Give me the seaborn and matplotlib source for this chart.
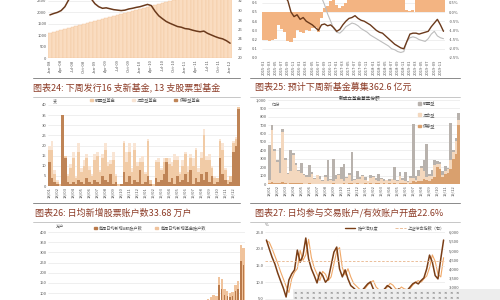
import numpy as np
import matplotlib
matplotlib.use("Agg")
import matplotlib.pyplot as plt
import seaborn as sns
from matplotlib.lines import Line2D
from matplotlib.patches import Patch, Rectangle

sns.set_theme(style="white")
plt.rcParams['font.family'] = ['Noto Sans CJK SC', 'DejaVu Sans']
plt.rcParams['axes.unicode_minus'] = False

# ---------------- data ----------------
# Panel 1: new-fund issuance (area) and line
p1_area = [1100, 1145, 1190, 1235, 1280, 1320, 1365, 1410, 1455, 1500, 1545, 1590, 1635, 1680, 1720, 1765,
           1810, 1855, 1900, 1945, 1990, 2035, 2075, 2120, 2165, 2210, 2255, 2300, 2345, 2390, 2430, 2475,
           2520, 2565, 2610, 2655, 2700, 2745, 2785, 2830, 2875, 2920, 2965, 3010, 3050, 3095, 3140, 3185, 3230]
p1_line = [1890, 1950, 2000, 2080, 2250, 2550, 2700, 2800, 2750, 2800, 2650, 2600, 2380, 2250, 2180, 2200,
           2160, 2120, 2100, 2080, 2100, 2150, 2180, 2220, 2250, 2300, 2350, 2300, 2050, 1850, 1720, 1600,
           1520, 1450, 1380, 1350, 1290, 1270, 1220, 1180, 1150, 1180, 1080, 1010, 940, 880, 840, 760, 650]
p1_xlabels = ["Jan-08", "Apr-08", "Jul-08", "Oct-08", "Jan-09", "Apr-09", "Jul-09", "Oct-09", "Jan-10",
              "Apr-10", "Jul-10", "Oct-10", "Jan-11", "Apr-11", "Jul-11", "Oct-11", "Jan-12"]

# Panel 2: flow bars (right, %) and two lines (left)
p2_flow = [-1.5, -1.5, -1.55, -1.5, -1.45, -0.7, -0.9, -1.1, -1.6, -1.65, -1.4, -1.0, -1.1, -1.15, -1.0,
           -1.05, -0.85, -0.8, -1.1, -0.3, 0.2, 0.3, 0.6, 0.9, 0.4, 0.2, 0.3, 0.5, 0.8, 0.9, 1.0, 0.8, 0.9,
           1.0, 0.9, 0.8, 1.0, 0.9, 0.7, 0.8, 0.9, 1.0, 0.9, 0.8, 0.9, 1.0, 0.8, 0.1, 0.05, 0.1, 0.8, 0.9,
           1.0, 0.9, 1.0, 0.9, 1.0, 0.9, 1.0, 0.9]
p2_brown = [0.78, 0.78, 0.77, 0.76, 0.74, 0.70, 0.68, 0.67, 0.62, 0.50, 0.45, 0.47, 0.42, 0.44, 0.40, 0.38,
            0.36, 0.33, 0.30, 0.36, 0.37, 0.35, 0.36, 0.33, 0.29, 0.31, 0.36, 0.40, 0.43, 0.44, 0.46, 0.43,
            0.41, 0.40, 0.38, 0.36, 0.33, 0.30, 0.28, 0.27, 0.24, 0.21, 0.18, 0.15, 0.13, 0.11, 0.10, 0.18,
            0.26, 0.27, 0.27, 0.26, 0.27, 0.28, 0.29, 0.34, 0.38, 0.42, 0.36, 0.29]
p2_gray = [0.80, 0.80, 0.80, 0.80, 0.80, 0.80, 0.80, 0.68, 0.66, 0.67, 0.69, 0.72, 0.78, 0.80, 0.80, 0.80,
           0.80, 0.80, 0.78, 0.66, 0.58, 0.48, 0.40, 0.32, 0.28, 0.27, 0.30, 0.34, 0.36, 0.38, 0.37, 0.35,
           0.32, 0.30, 0.28, 0.25, 0.23, 0.21, 0.19, 0.17, 0.15, 0.13, 0.10, 0.09, 0.07, 0.06, 0.07, 0.18,
           0.22, 0.23, 0.22, 0.20, 0.19, 0.18, 0.21, 0.26, 0.29, 0.24, 0.22, 0.21]
p2_xlabels = ["2015-01", "2015-03", "2015-05", "2015-07", "2015-09", "2015-11", "2016-01", "2016-03",
              "2016-05", "2016-07", "2016-09", "2016-11", "2017-01", "2017-03", "2017-05", "2017-07",
              "2017-09", "2017-11", "2018-01", "2018-03", "2018-05", "2018-07", "2018-09", "2018-11",
              "2019-01", "2019-03", "2019-05", "2019-07", "2019-09", "2019-11"]

# Panel 3: number of new funds (stacked)
p3_stock = [12, 4, 2, 1, 0, 35, 14, 2, 1, 2, 1, 3, 2, 1, 4, 2, 1, 3, 2, 1, 5, 3, 2, 6, 1, 2, 0, 1, 7, 2,
            5, 1, 3, 2, 8, 1, 2, 5, 1, 0, 4, 2, 3, 6, 12, 2, 4, 1, 5, 2, 3, 6, 2, 8, 1, 4, 2, 6, 3, 7,
            2, 5, 1, 2, 14, 6, 3, 1, 2, 17, 20, 38]
p3_mixed = [6, 14, 4, 1, 1, 0, 1, 3, 8, 12, 3, 14, 5, 9, 10, 6, 4, 10, 13, 6, 9, 15, 8, 5, 12, 3, 1, 0,
            14, 10, 12, 6, 15, 8, 4, 11, 4, 17, 2, 1, 8, 10, 5, 6, 2, 9, 6, 12, 8, 4, 7, 10, 5, 6, 9, 14,
            5, 8, 22, 6, 11, 4, 3, 2, 8, 12, 5, 2, 3, 4, 3, 1]
p3_bond = [2, 4, 2, 1, 0, 0, 0, 1, 2, 3, 1, 4, 2, 3, 2, 2, 1, 3, 2, 1, 2, 3, 2, 2, 4, 1, 0, 0, 1, 5, 4, 2,
           3, 2, 2, 3, 1, 1, 0, 0, 1, 2, 1, 2, 0, 3, 2, 3, 2, 1, 3, 1, 3, 2, 4, 1, 2, 3, 3, 2, 3, 1, 1, 0,
           1, 3, 1, 0, 0, 1, 1, 0]
p3_series = ["股票型基金", "混合型基金", "债券型基金"]
p3_xlabels = ["18/01", "18/02", "18/03", "18/04", "18/05", "18/06", "18/07", "18/08", "18/09", "18/10",
              "18/11", "18/12", "19/01", "19/02", "19/03", "19/04", "19/05", "19/06", "19/07", "19/08",
              "19/09", "19/10", "19/11", "19/12"]

# Panel 4: new fund raised shares
p4_gray = [420, 60, 30, 20, 300, 40, 20, 10, 250, 30, 20, 10, 120, 10, 20, 150, 20, 10, 5, 40, 10, 20, 250,
           10, 270, 40, 10, 150, 200, 10, 20, 350, 10, 100, 20, 10, 30, 5, 40, 10, 20, 80, 10, 20, 5, 30,
           10, 150, 10, 50, 20, 100, 10, 30, 650, 40, 80, 20, 120, 400, 20, 80, 50, 30, 20, 40, 60, 10, 450,
           20, 40, 80]
p4_beige = [40, 620, 380, 250, 120, 600, 280, 120, 150, 330, 220, 150, 120, 100, 80, 70, 120, 60, 100, 50,
            30, 80, 30, 40, 20, 60, 100, 50, 30, 70, 100, 20, 40, 50, 60, 90, 40, 30, 60, 80, 40, 30, 60,
            30, 40, 20, 50, 40, 30, 80, 40, 30, 20, 60, 40, 30, 60, 150, 100, 30, 60, 30, 150, 40, 60, 30,
            40, 50, 100, 80, 150, 60]
p4_orange = [10, 20, 10, 10, 10, 20, 10, 5, 10, 10, 10, 10, 10, 5, 5, 10, 5, 5, 5, 5, 5, 5, 5, 5, 10, 5, 5,
             5, 10, 5, 10, 10, 5, 10, 5, 5, 10, 5, 10, 5, 10, 10, 5, 10, 5, 10, 5, 10, 5, 10, 10, 10, 5,
             10, 30, 20, 30, 40, 60, 50, 40, 60, 80, 200, 180, 80, 120, 130, 180, 300, 360, 700]
p4_series = ["股票型", "混合型", "债券型"]
p4_xlabels = p3_xlabels

# Panel 5: new accounts (万户)
p5_fund = [30, 25, 20, 22, 18, 25, 30, 28, 20, 18, 15, 20, 22, 25, 20, 18, 22, 25, 28, 30, 26, 22, 20, 18,
           20, 22, 25, 28, 24, 20, 18, 16, 15, 18, 20, 22, 24, 26, 25, 22, 20, 18, 20, 24, 28, 30, 35, 40,
           38, 35, 30, 28, 32, 36, 40, 45, 50, 60, 70, 80, 90, 85, 180, 170, 120, 110, 100, 105, 140, 160,
           335, 320]
p5_stock = [20, 18, 15, 16, 12, 18, 22, 20, 14, 12, 10, 14, 16, 18, 14, 12, 16, 18, 20, 22, 18, 16, 14, 12,
            14, 16, 18, 20, 17, 14, 12, 11, 10, 12, 14, 16, 17, 18, 18, 16, 14, 12, 14, 17, 20, 22, 25, 28,
            27, 25, 22, 20, 23, 26, 28, 32, 36, 42, 50, 56, 64, 60, 140, 120, 90, 85, 80, 85, 110, 120, 260,
            240]
p5_series = ["每周日均新增A股账户数", "每周日均新增基金账户数"]

# Panel 6: account activity (%) and index (right)
p6_active = [22.6, 20.0, 17.5, 15.5, 12.8, 10.5, 8.3, 5.6, 10.7, 12.5, 13.7, 19.6, 16.0, 18.0, 23.2, 17.0,
             14.0, 12.0, 9.8, 13.0, 12.0, 10.0, 11.0, 15.0, 19.0, 20.5, 14.0, 11.6, 13.7, 11.0, 9.0, 8.3,
             7.5, 6.8, 7.5, 8.5, 9.5, 10.1, 8.0, 7.0, 6.5, 7.0, 8.0, 9.0, 8.5, 7.5, 7.0, 8.0, 7.5, 7.0, 7.5,
             8.5, 9.5, 10.0, 9.5, 10.5, 11.3, 14.0, 18.1, 16.0, 12.0, 11.0, 17.0, 22.6]
p6_index = [5500, 5450, 5100, 4700, 4300, 3850, 3450, 3050, 2700, 3450, 3800, 4000, 5000, 4450, 4750, 5600,
            4600, 4050, 3700, 3350, 3850, 3700, 3350, 3550, 4250, 4950, 5150, 4050, 3650, 4000, 3550, 3200,
            3050, 2900, 2800, 2900, 3100, 3250, 3350, 3000, 2850, 2750, 2850, 3000, 3200, 3100, 2900, 2850,
            3000, 2900, 2850, 2900, 3100, 3250, 3350, 3250, 3450, 3600, 4050, 4750, 4400, 3700, 3550, 4600]
p6_ref = 16.3
p6_series = ["账户活跃度", "上证综合指数（右）"]

captions = ["图表24: 下周发行16 支新基金, 13 支股票型基金",
            "图表25: 预计下周新基金募集362.6 亿元",
            "图表26: 日均新增股票账户数33.68 万户",
            "图表27: 日均参与交易账户/有效账户开盘22.6%"]

# ---------------- figure ----------------
W, H = 500, 300
fig = plt.figure(figsize=(5, 3), dpi=100)
fig.patch.set_facecolor('white')

BROWN = '#6B3A1C'
TICK = '#555555'
GRID = '#E4E4E4'
CAP = '#8C3B26'


def px_axes(x0, x1, yt, yb):
    return fig.add_axes([x0 / W, 1 - yb / H, (x1 - x0) / W, (yb - yt) / H])


def style(ax):
    for s in ax.spines.values():
        s.set_visible(False)
    ax.tick_params(axis='both', labelsize=3, length=0, pad=1, colors=TICK)
    ax.set_xlabel('')
    ax.set_ylabel('')


def hgrid(ax):
    ax.yaxis.grid(True, color=GRID, lw=0.4)
    ax.xaxis.grid(False)
    ax.set_axisbelow(True)


# ---- Panel 1 ----
ax1 = px_axes(48, 232, -10.4, 58)
x1 = np.arange(len(p1_line))
sns.barplot(x=x1, y=p1_area, ax=ax1, color='#FADCC0', width=1.0, edgecolor='#F1C49C',
            linewidth=0.3, errorbar=None, saturation=1)
sns.lineplot(x=x1, y=p1_line, ax=ax1, color=BROWN, lw=1.1)
ax1.set_xlim(-0.5, len(x1) - 0.5)
ax1.set_ylim(0, 3000)
ax1.set_yticks([0, 500, 1000, 1500, 2000, 2500])
ax1.set_yticklabels(['0', '500', '1000', '1500', '2000', '2500'])
ax1.set_xticks(range(0, len(x1), 3))
ax1.set_xticklabels(p1_xlabels, rotation=90)
style(ax1)
hgrid(ax1)
ax1r = ax1.twinx()
ax1r.set_ylim(20, 34.4)
ax1r.set_yticks([20, 22, 24, 26, 28, 30, 32])
style(ax1r)
ax1r.tick_params(pad=4)

# ---- Panel 2 ----
ax2 = px_axes(262, 445, -6.4, 58)
x2 = np.arange(len(p2_flow))
sns.barplot(x=x2, y=p2_flow, ax=ax2, color='#F3B482', width=1.0, linewidth=0,
            errorbar=None, saturation=1)
ax2.set_xlim(-0.5, len(x2) - 0.5)
ax2.set_ylim(-2.5, 1.0)
ax2.set_yticks([-2.5, -2.0, -1.5, -1.0, -0.5, 0.0, 0.5])
ax2.set_yticklabels(['-2.5%', '-2.0%', '-1.5%', '-1.0%', '-0.5%', '0.0%', '0.5%'])
ax2.set_xticks(range(0, len(x2), 2))
ax2.set_xticklabels(p2_xlabels, rotation=90)
style(ax2)
hgrid(ax2)
ax2l = ax2.twinx()
sns.lineplot(x=x2, y=p2_gray, ax=ax2l, color='#BDBDBD', lw=0.8)
sns.lineplot(x=x2, y=p2_brown, ax=ax2l, color=BROWN, lw=1.0)
ax2l.set_ylim(0, 0.7)
ax2l.set_yticks([0, 0.1, 0.2, 0.3, 0.4, 0.5, 0.6])
ax2l.set_yticklabels(['0.0', '0.1', '0.2', '0.3', '0.4', '0.5', '0.6'])
style(ax2l)
# percent labels on the right, value labels on the left
ax2.yaxis.tick_right()
ax2.tick_params(axis='y', labelright=True, labelleft=False, pad=3, length=0)
ax2l.yaxis.tick_left()
ax2l.tick_params(axis='y', labelleft=True, labelright=False, pad=3, length=0)

# ---- Panel 3 ----
ax3 = px_axes(48, 240, 105, 186)
x3 = np.arange(len(p3_stock))
s3 = np.array(p3_stock)
m3 = s3 + np.array(p3_mixed)
t3 = m3 + np.array(p3_bond)
c3 = ['#BF8456', '#F1CBA6', '#F9E5D4']
sns.barplot(x=x3, y=t3, ax=ax3, color=c3[2], width=0.9, linewidth=0, errorbar=None, saturation=1)
sns.barplot(x=x3, y=m3, ax=ax3, color=c3[1], width=0.9, linewidth=0, errorbar=None, saturation=1)
sns.barplot(x=x3, y=s3, ax=ax3, color=c3[0], width=0.9, linewidth=0, errorbar=None, saturation=1)
ax3.set_xlim(-0.5, len(x3) - 0.5)
ax3.set_ylim(0, 40)
ax3.set_yticks(range(0, 41, 5))
ax3.set_xticks(range(0, len(x3), 3))
ax3.set_xticklabels(p3_xlabels, rotation=90)
style(ax3)
hgrid(ax3)
ax3.legend(handles=[Patch(color=c3[1]), Patch(color=c3[2]), Patch(color=c3[0])],
           labels=p3_series, ncol=3, loc='center', bbox_to_anchor=(145 / W, 1 - 100 / H),
           bbox_transform=fig.transFigure, fontsize=3, frameon=False, handlelength=0.7,
           handleheight=0.7, columnspacing=4, handletextpad=0.5, labelcolor=TICK)
fig.text(53 / W, 1 - 101 / H, "支", fontsize=3, color=TICK, va='center')

# ---- Panel 4 ----
ax4 = px_axes(268, 460, 100, 184)
x4 = np.arange(len(p4_gray))
o4 = np.array(p4_orange)
b4 = o4 + np.array(p4_beige)
g4 = b4 + np.array(p4_gray)
c4 = ['#B8B2AD', '#F4D8BE', '#D9A06E']
sns.barplot(x=x4, y=g4, ax=ax4, color=c4[0], width=0.9, linewidth=0, errorbar=None, saturation=1)
sns.barplot(x=x4, y=b4, ax=ax4, color=c4[1], width=0.9, linewidth=0, errorbar=None, saturation=1)
sns.barplot(x=x4, y=o4, ax=ax4, color=c4[2], width=0.9, linewidth=0, errorbar=None, saturation=1)
ax4.set_xlim(-0.5, len(x4) - 0.5)
ax4.set_ylim(0, 1000)
ax4.set_yticks(range(0, 1001, 100))
ax4.set_yticklabels(['0', '100', '200', '300', '400', '500', '600', '700', '800', '900', '1,000'])
ax4.set_xticks(range(0, len(x4), 3))
ax4.set_xticklabels(p4_xlabels, rotation=90)
style(ax4)
hgrid(ax4)
ax4.legend(handles=[Patch(color=c) for c in c4], labels=p4_series, loc='upper left',
           bbox_to_anchor=(414 / W, 1 - 97 / H), bbox_transform=fig.transFigure, fontsize=3,
           frameon=False, handlelength=0.7, handleheight=0.7, labelspacing=1.6, handletextpad=0.5,
           labelcolor=TICK)
fig.text(360 / W, 1 - 99 / H, "新成立基金募集份额", fontsize=3.3, color='#333333', ha='center', va='center')
fig.text(272 / W, 1 - 105 / H, "亿份", fontsize=3, color=TICK, va='center')

# ---- Panel 5 ----
ax5 = px_axes(48, 245, 232, 313.6)
x5 = np.arange(len(p5_fund))
c5 = ['#B9794A', '#F0C39C']
sns.barplot(x=x5, y=p5_fund, ax=ax5, color=c5[1], width=0.9, linewidth=0, errorbar=None, saturation=1)
sns.barplot(x=x5, y=p5_stock, ax=ax5, color=c5[0], width=0.5, linewidth=0, errorbar=None, saturation=1)
ax5.set_xlim(-0.5, len(x5) - 0.5)
ax5.set_ylim(0, 400)
ax5.set_yticks(range(100, 401, 50))
ax5.set_xticks([])
style(ax5)
hgrid(ax5)
ax5.legend(handles=[Patch(color=c5[0]), Patch(color=c5[1])], labels=p5_series, ncol=2, loc='center',
           bbox_to_anchor=(150 / W, 1 - 228 / H), bbox_transform=fig.transFigure, fontsize=3,
           frameon=False, handlelength=0.7, handleheight=0.7, columnspacing=3, handletextpad=0.5,
           labelcolor=TICK)
fig.text(56 / W, 1 - 228 / H, "万户", fontsize=3, color=TICK, va='center')

# ---- Panel 6 ----
ax6 = px_axes(265, 445, 232, 315.75)
x6 = np.arange(len(p6_active))
ax6r = ax6.twinx()
sns.lineplot(x=x6, y=p6_index, ax=ax6r, color='#F0A868', lw=0.8)
sns.lineplot(x=x6, y=p6_active, ax=ax6, color='#7A3E16', lw=1.1)
ax6.axhline(p6_ref, color='#E8B48A', ls='--', lw=0.6, dashes=(3, 2))
ax6.set_zorder(ax6r.get_zorder() + 1)
ax6.patch.set_visible(False)
ax6.set_xlim(-0.5, len(x6) - 0.5)
ax6.set_ylim(0, 25)
ax6.set_yticks([5, 10, 15, 20, 25])
ax6.set_yticklabels(['5.0', '10.0', '15.0', '20.0', '25.0'])
ax6.set_xticks([])
ax6r.set_ylim(1432, 6000)
ax6r.set_yticks([3000, 3500, 4000, 4500, 5000, 5500, 6000])
ax6r.set_yticklabels(['3,000', '3,500', '4,000', '4,500', '5,000', '5,500', '6,000'])
style(ax6)
style(ax6r)
ax6r.tick_params(pad=3)
hgrid(ax6)
ax6.legend(handles=[Line2D([0], [0], color='#7A3E16', lw=1.0),
                    Line2D([0], [0], color='#E8B48A', lw=0.6, ls='--')],
           labels=p6_series, ncol=2, loc='center', bbox_to_anchor=(395 / W, 1 - 228 / H),
           bbox_transform=fig.transFigure, fontsize=3, frameon=False, handlelength=2.5,
           columnspacing=4, handletextpad=0.6, labelcolor=TICK)
fig.text(265 / W, 1 - 225 / H, "%", fontsize=3, color=TICK, va='center')

# ---- captions and separators ----
def hline(x0, x1, y, color, lw):
    fig.add_artist(Line2D([x0 / W, x1 / W], [1 - y / H, 1 - y / H], color=color, lw=lw))

for (x0, x1) in [(33, 240), (250, 460)]:
    hline(x0, x1, 77.5, '#8A8A8A', 0.7)
    hline(x0, x1, 96.5, '#B0B0B0', 0.5)
    hline(x0, x1, 203, '#8A8A8A', 0.7)
    hline(x0, x1, 222, '#B0B0B0', 0.5)

fig.text(33 / W, 1 - 87 / H, captions[0], fontsize=6.5, color=CAP, va='center')
fig.text(255 / W, 1 - 87 / H, captions[1], fontsize=6.5, color=CAP, va='center')
fig.text(35 / W, 1 - 213 / H, captions[2], fontsize=6.5, color=CAP, va='center')
fig.text(255 / W, 1 - 213 / H, captions[3], fontsize=6.5, color=CAP, va='center')

# ---- watermark band ----
fig.add_artist(Rectangle((293 / W, 0), 207 / W, 11 / H, transform=fig.transFigure,
                         facecolor='#EDEDED', edgecolor='none', zorder=10))
row = "×  " * 27 + "×"
for yy in (292.8, 298.0):
    fig.text(294 / W, 1 - yy / H, row, fontsize=3.0, color='#444444', va='center',
             family='DejaVu Sans', zorder=11)

fig.savefig("out.png", dpi=100, facecolor='white')
